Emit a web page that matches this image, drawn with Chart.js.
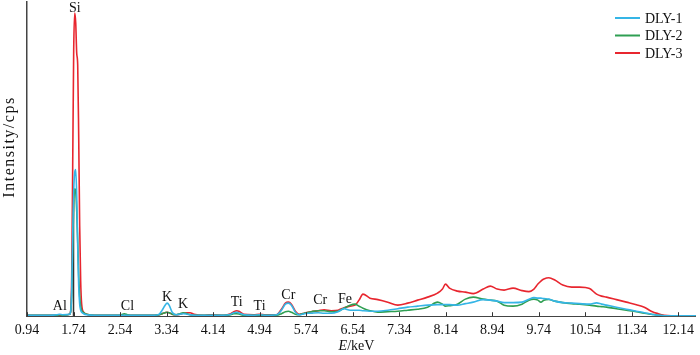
<!DOCTYPE html>
<html>
<head>
<meta charset="utf-8">
<script src="https://cdn.jsdelivr.net/npm/chart.js@4.4.1/dist/chart.umd.min.js"></script>
<style>
  html, body { margin: 0; padding: 0; background: #fff; }
  #wrap { width: 700px; height: 355px; position: relative; }
</style>
</head>
<body>
<div id="wrap"><canvas id="c" width="700" height="355"></canvas></div>
<script>
// ---- data (energy in keV, intensity in arbitrary cps units) ----
const energies = [0.94,1.333,1.453,1.504,1.555,1.675,1.692,1.709,1.726,1.743,1.761,1.778,1.795,1.812,1.829,1.846,1.863,1.880,1.914,1.966,2.102,2.530,2.615,2.667,2.718,3.128,3.214,3.265,3.316,3.350,3.384,3.436,3.504,3.573,3.624,3.692,3.744,3.812,3.983,4.068,4.137,4.325,4.444,4.496,4.547,4.598,4.667,4.838,4.940,5.043,5.231,5.316,5.384,5.435,5.487,5.555,5.624,5.709,5.829,5.949,6.051,6.171,6.291,6.393,6.496,6.581,6.650,6.718,6.838,6.974,7.145,7.316,7.487,7.658,7.829,8.000,8.085,8.137,8.205,8.342,8.479,8.615,8.786,8.906,9.026,9.145,9.299,9.453,9.573,9.658,9.726,9.778,9.829,9.915,10.017,10.154,10.308,10.444,10.615,10.735,10.821,10.906,11.077,11.248,11.419,11.556,11.675,11.795,11.897,12.017,12.273,12.444];
const dly1 = [1,1,1.5,2,1.5,2,5,25,80,125,143,146,120,70,30,12,6,4,2.5,1.5,1,1,1,1,1,1,2,6,11,13,11,4,1.5,2,2.5,2,1.5,1,1,1,1,1,2,3.5,4,3,1.5,1,1.5,1,1.5,6,12,13,11,4,1.5,2.5,3,3.5,3,3,4.5,7.5,6,6,6,5.5,5,5,6,7.5,9,10,11,11.5,11.5,11.7,11.5,11,12.5,14,16.5,16,15,13.5,13.5,14,17,18.5,18,18,17.5,17,15,13.5,13,12.5,12,13.3,12,11,9,7,5,3.5,2,1,0.5,0.5,0.5,0.5];
const dly2 = [1,1,1,1.5,1,2,5,22,70,110,127,124,105,75,40,20,10,6,3.5,2,1,1,2.5,1.5,1,1,1.5,2.5,3.5,4,3.5,2,1.5,2.5,3.5,2.5,1.5,1,1,1,1,1,1.5,2.5,2.5,2,1,1,1,1,1,2.5,4.5,5,4,2,1.5,3,4.5,5.5,5.5,4.5,5,8,11,12,10,8,5.5,4,4.5,5,6,7,9,14,12,10,10.5,12,17,19,17,16,15,11,10,12,16,17,16,14,16,16.7,15,13.5,12.5,12,11,10,9.5,9,7.5,6,4.5,3,2,1,0.5,0.5,0.5,0.5];
const dly3 = [1,1,1,1,1,2,6,40,150,265,302,292,262,250,180,90,35,12,4,2,1,1,1,1,1,1,1.5,2.5,3.5,4,3.5,2,1.5,2,3,3.5,3.5,2,1,1.5,1.5,1,2.5,4.5,5.5,4.5,2,1.5,2,1.5,1.5,7,13,14,12,5,2,3,4.5,5.5,6.5,5.5,6,8.5,10,11,16,22,18,16.5,14,11,13,16,19,23,27,32,28,25,24,22.5,27,30,27,26,28,25.5,24.5,27,32,35,37,38.3,36,31,29,29,27.5,22,20,19,16.5,14,11.5,9,5,2.5,1,0.5,0.5,0.5];
const siMarker = [0, 116];
const seriesNames = ['DLY-1', 'DLY-2', 'DLY-3'];
const tickLabels = ['0.94','1.74','2.54','3.34','4.14','4.94','5.74','6.54','7.34','8.14','8.94','9.74','10.54','11.34','12.14'];
const elementNames = ['Si','Al','Cl','K','K','Ti','Ti','Cr','Cr','Fe'];
const elementEnergies = [1.761,1.504,2.667,3.350,3.624,4.547,4.940,5.435,5.983,6.410];
const elementLevels = [307,10,10,19,12,14,10,21,16,17];

// ---- styles ----
const colors = ['#35b5e6', '#2f9f52', '#e8262f'];
const serif = '"Liberation Serif", "Times New Roman", serif';

function pts(vals) { return energies.map((e, i) => ({ x: e, y: vals[i] })); }

const tickValues = tickLabels.map(Number);

const innerTicks = {
  id: 'innerTicks',
  afterDatasetsDraw(chart) {
    const ctx = chart.ctx, xs = chart.scales.x, ys = chart.scales.y, a = chart.chartArea;
    ctx.save();
    ctx.strokeStyle = '#333';
    ctx.lineWidth = 1;
    tickValues.forEach(v => {
      const px = Math.round(xs.getPixelForValue(v)) + 0.5;
      ctx.beginPath(); ctx.moveTo(px, a.bottom); ctx.lineTo(px, a.bottom - 4); ctx.stroke();
    });
    // element labels
    ctx.fillStyle = '#111';
    ctx.font = '14px ' + serif;
    ctx.textAlign = 'center';
    ctx.textBaseline = 'middle';
    elementNames.forEach((n, i) => {
      ctx.fillText(n, xs.getPixelForValue(elementEnergies[i]), ys.getPixelForValue(elementLevels[i]));
    });
    // legend
    ctx.textAlign = 'left';
    ctx.font = '14px ' + serif;
    chart.data.datasets.slice(0, 3).forEach((ds, i) => {
      const y = 18 + i * 17.5;
      ctx.strokeStyle = ds.borderColor; ctx.lineWidth = 2;
      ctx.beginPath(); ctx.moveTo(615, y); ctx.lineTo(640, y); ctx.stroke();
      ctx.fillStyle = '#111';
      ctx.fillText(ds.label, 645, y + 1);
    });
    // axis titles
    ctx.fillStyle = '#111';
    ctx.font = 'italic 14px ' + serif;
    const t1 = 'E', t2 = '/keV';
    const w1 = ctx.measureText(t1).width;
    ctx.font = '14px ' + serif;
    const w2 = ctx.measureText(t2).width;
    const cx = (a.left + a.right) / 2 - 5;
    ctx.textAlign = 'left';
    ctx.font = 'italic 14px ' + serif;
    ctx.fillText(t1, cx - (w1 + w2) / 2, 346);
    ctx.font = '14px ' + serif;
    ctx.fillText(t2, cx - (w1 + w2) / 2 + w1, 346);
    ctx.save();
    ctx.translate(10, 147);
    ctx.rotate(-Math.PI / 2);
    ctx.textAlign = 'center';
    ctx.font = '16px ' + serif;
    try { ctx.letterSpacing = '1.5px'; } catch (e) {}
    ctx.fillText('Intensity/cps', 0, 0);
    ctx.restore();
    ctx.restore();
  }
};

new Chart(document.getElementById('c'), {
  type: 'line',
  data: {
    datasets: [
      { label: seriesNames[0], data: pts(dly1), borderColor: colors[0], borderWidth: 1.6, pointRadius: 0, cubicInterpolationMode: 'monotone', fill: false },
      { label: seriesNames[1], data: pts(dly2), borderColor: colors[1], borderWidth: 1.6, pointRadius: 0, cubicInterpolationMode: 'monotone', fill: false },
      { label: seriesNames[2], data: pts(dly3), borderColor: colors[2], borderWidth: 1.6, pointRadius: 0, cubicInterpolationMode: 'monotone', fill: false },
      { label: 'Si', data: siMarker.map(v => ({ x: tickValues[1], y: v })), borderColor: '#333', borderWidth: 1.5, pointRadius: 0, fill: false }
    ]
  },
  options: {
    responsive: false,
    animation: false,
    layout: { padding: { left: 27, top: 2, right: 0, bottom: 10 } },
    plugins: { legend: { display: false }, tooltip: { enabled: false } },
    scales: {
      x: {
        type: 'linear', min: 0.94, max: 12.444,
        afterBuildTicks(scale) { scale.ticks = tickValues.map(v => ({ value: v })); },
        grid: { display: false, drawTicks: false },
        border: { display: true, color: '#444', width: 1 },
        ticks: { padding: 6, color: '#111', font: { family: serif, size: 14 }, maxRotation: 0, autoSkip: false,
                 callback: (v) => { const i = tickValues.indexOf(v); return i >= 0 ? tickLabels[i] : ''; } }
      },
      y: {
        min: 0, max: 313,
        grid: { display: false, drawTicks: false },
        border: { display: true, color: '#444', width: 1.5 },
        ticks: { display: false }
      }
    }
  },
  plugins: [innerTicks]
});
</script>
</body>
</html>
